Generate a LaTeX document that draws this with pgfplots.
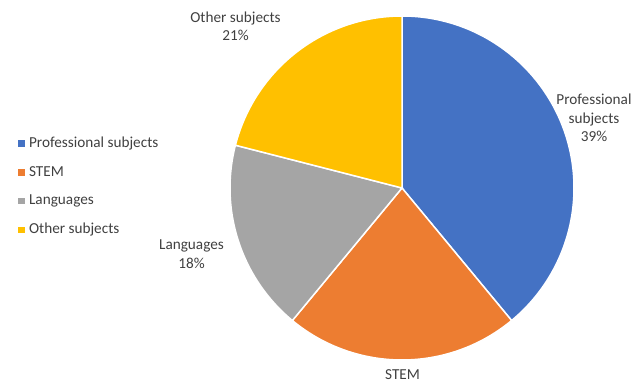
\documentclass[border=0pt]{standalone}
\usepackage{pgfplots}
\pgfplotsset{compat=1.18}
\usepackage{pgfplotstable}
\usepackage{fontspec}
\setmainfont{Carlito}
\definecolor{cblue}{HTML}{4472C4}
\definecolor{corange}{HTML}{ED7D31}
\definecolor{cgray}{HTML}{A5A5A5}
\definecolor{cgold}{HTML}{FFC000}
\definecolor{ctext}{HTML}{404040}
\pgfplotstableread{
label value
Professional 39
STEM 22
Languages 18
Other 21
}\piedata
\begin{document}
\begin{tikzpicture}
\pgfplotstablegetelem{0}{value}\of\piedata\let\vA\pgfplotsretval
\pgfplotstablegetelem{1}{value}\of\piedata\let\vB\pgfplotsretval
\pgfplotstablegetelem{2}{value}\of\piedata\let\vC\pgfplotsretval
\pgfplotstablegetelem{3}{value}\of\piedata\let\vD\pgfplotsretval
\pgfmathsetmacro\aA{90}
\pgfmathsetmacro\aB{\aA-3.6*\vA}
\pgfmathsetmacro\aC{\aB-3.6*\vB}
\pgfmathsetmacro\aD{\aC-3.6*\vC}
\pgfmathsetmacro\aE{\aD-3.6*\vD}
\begin{axis}[
  at={(0,0)}, anchor=south west,
  x=1bp, y=1bp,
  xmin=0, xmax=631, ymin=0, ymax=387,
  hide axis, clip=false,
  font=\fontsize{15.3}{18.5}\selectfont,
  legend style={draw=none, fill=none, at={(axis cs:15,200)}, anchor=west,
    text=ctext, row sep=15.7bp, column sep=5bp,
    nodes={inner sep=0pt, text height=10bp, text depth=3bp, anchor=base west}},
  legend cell align=left,
  legend image code/.code={\fill[#1] (0bp,1.3bp) rectangle (5.5bp,6.8bp);},
]
\fill[cblue, draw=white, line width=1.5bp] (axis cs:402,199) -- ++(\aA:172bp) arc[start angle=\aA, end angle=\aB, radius=172bp] -- cycle;
\fill[corange, draw=white, line width=1.5bp] (axis cs:402,199) -- ++(\aB:172bp) arc[start angle=\aB, end angle=\aC, radius=172bp] -- cycle;
\fill[cgray, draw=white, line width=1.5bp] (axis cs:402,199) -- ++(\aC:172bp) arc[start angle=\aC, end angle=\aD, radius=172bp] -- cycle;
\fill[cgold, draw=white, line width=1.5bp] (axis cs:402,199) -- ++(\aD:172bp) arc[start angle=\aD, end angle=\aE, radius=172bp] -- cycle;
\addlegendimage{cblue}
\addlegendentry{Professional subjects}
\addlegendimage{corange}
\addlegendentry{STEM}
\addlegendimage{cgray}
\addlegendentry{Languages}
\addlegendimage{cgold}
\addlegendentry{Other subjects}
\node[text=ctext, align=center] at (axis cs:594,269) {Professional\\subjects\\\vA\%};
\node[text=ctext, align=center] at (axis cs:402.5,12) {STEM};
\node[text=ctext, align=center] at (axis cs:191.5,133) {Languages\\\vC\%};
\node[text=ctext, align=center] at (axis cs:235.5,361) {Other subjects\\\vD\%};
\end{axis}
\pgfresetboundingbox
\useasboundingbox (0,0) rectangle (631bp,387bp);
\end{tikzpicture}
\end{document}
